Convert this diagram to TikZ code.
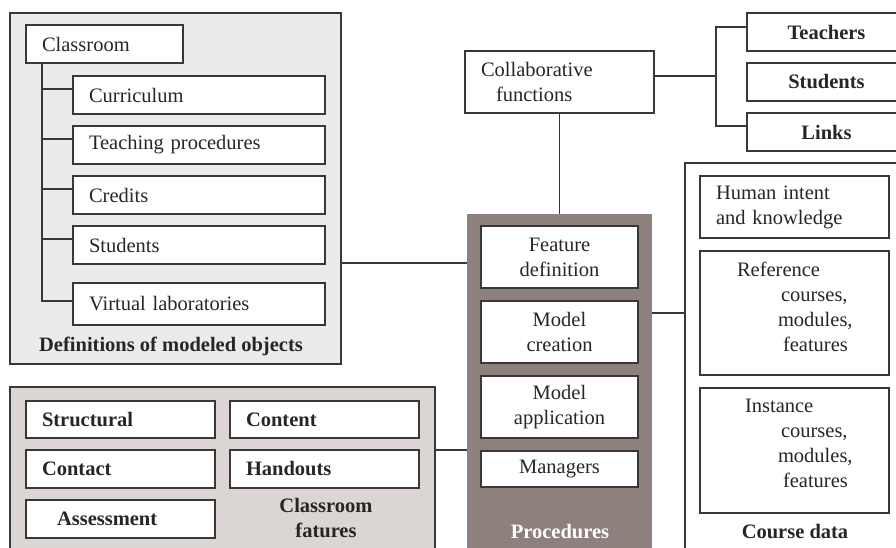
\documentclass[tikz,border=0pt]{standalone}
\usepackage{fontspec}
\setmainfont{Liberation Serif}
\tikzset{>=latex}
\definecolor{defgray}{HTML}{ECEBE9}
\definecolor{featgray}{HTML}{DBD6D3}
\definecolor{procbrown}{HTML}{8E807C}
\colorlet{linegray}{black!78}
\newcommand{\boxfont}{\fontsize{20.5}{25}\selectfont}

\begin{document}
\begin{tikzpicture}[x=1pt,y=-1pt,
  every node/.style={outer sep=0pt, text=black!85, font=\boxfont},
  panel/.style={draw=linegray, line width=2pt, anchor=north west, inner sep=0pt},
  itembox/.style={draw=linegray, line width=2pt, fill=white, anchor=north west,
    inner xsep=16pt, inner ysep=0pt, minimum height=38pt},
  leftbox/.style={itembox, align=left, text width=#1},
  midbox/.style={itembox, align=center, minimum width=#1},
  wire/.style={draw=linegray, line width=1.6pt}
]
  \clip (0,0) rectangle (896,547);

  % panels
  \node[panel, fill=defgray, minimum width=331pt, minimum height=351pt] (defpanel) at (10,13) {};
  \node[panel, fill=featgray, minimum width=425pt, minimum height=200pt] (featpanel) at (10,387) {};
  \node[panel, draw=none, fill=procbrown, minimum width=185pt, minimum height=360pt] (procpanel) at (467,214) {};
  \node[panel, fill=white, minimum width=240pt, minimum height=420pt] (datapanel) at (685,163) {};

  \node[font=\boxfont\bfseries, anchor=base] (deftitle) at (171,351) {Definitions of modeled objects};
  \node[font=\boxfont\bfseries, align=center] (feattitle) at (326,518.5) {Classroom\\fatures};
  \node[font=\boxfont\bfseries, text=white, anchor=base] (proctitle) at (560,538) {Procedures};
  \node[font=\boxfont\bfseries, anchor=base] (datatitle) at (795,538) {Course data};

  % modeled objects
  \node[leftbox=125pt] (classroom) at (26,25) {Classroom};
  \node[leftbox=220pt] (curric) at (73,76) {Curriculum};
  \node[leftbox=220pt] (teach) at (73,126) {Teaching procedures};
  \node[leftbox=220pt] (credits) at (73,176) {Credits};
  \node[leftbox=220pt] (stud) at (73,226) {Students};
  \node[leftbox=220pt, minimum height=42pt] (virtlab) at (73,283) {Virtual laboratories};

  % collaborative functions
  \node[leftbox=157pt, minimum height=62pt] (collab) at (465,51) {Collaborative\\\hspace*{15pt}functions};
  \node[midbox=159pt, font=\boxfont\bfseries] (teachers) at (747,13) {Teachers};
  \node[midbox=159pt, font=\boxfont\bfseries] (students) at (747,63) {Students};
  \node[midbox=159pt, font=\boxfont\bfseries] (links) at (747,113) {Links};

  % procedures
  \node[midbox=157pt, minimum height=62pt] (featdef) at (481,226) {Feature\\definition};
  \node[midbox=157pt, minimum height=62pt] (modelcre) at (481,301) {Model\\creation};
  \node[midbox=157pt, minimum height=62pt] (modelapp) at (481,376) {Model\\application};
  \node[midbox=157pt, minimum height=36pt] (managers) at (481,451) {Managers};

  % course data
  \node[leftbox=157pt, minimum height=62pt] (human) at (700,176) {Human intent\\and knowledge};
  \node[leftbox=157pt, minimum height=124pt, text depth=87pt] (refdata) at (700,251)
    {\hspace*{21pt}Reference\\\hspace*{65pt}courses,\\\hspace*{62pt}modules,\\\hspace*{67pt}features};
  \node[leftbox=157pt, minimum height=125pt, text depth=89pt] (instdata) at (700,388)
    {\hspace*{29pt}Instance\\\hspace*{65pt}courses,\\\hspace*{62pt}modules,\\\hspace*{67pt}features};

  % classroom features
  \node[leftbox=157pt, minimum height=37pt, font=\boxfont\bfseries] (structural) at (26,401) {Structural};
  \node[leftbox=157pt, minimum height=37pt, font=\boxfont\bfseries] (content) at (230,401) {Content};
  \node[leftbox=157pt, font=\boxfont\bfseries] (contact) at (26,450) {Contact};
  \node[leftbox=157pt, font=\boxfont\bfseries] (handouts) at (230,450) {Handouts};
  \node[leftbox=157pt, font=\boxfont\bfseries] (assess) at (26,500) {\hspace*{15pt}Assessment};

  % connectors
  \draw[wire] ([xshift=16pt]classroom.south west) |- ([yshift=3pt]virtlab.west);
  \foreach \n in {curric,teach,credits,stud}
    \draw[wire] ([yshift=6pt]\n.west) -- ++(-31,0);
  \draw[wire] (defpanel.east |- 0,263) -- (procpanel.west |- 0,263);
  \draw[wire] (featpanel.east |- 0,450) -- (procpanel.west |- 0,450);
  \draw[wire] (procpanel.east |- 0,313) -- (datapanel.west |- 0,313);
  \draw[wire] (collab.south) -- (procpanel.north);
  \coordinate (bus) at (716,76);
  \draw[wire] (collab.east |- bus) -- (bus);
  \draw[wire] (teachers.west |- 0,27) -| (bus) |- (links.west |- 0,126);
\end{tikzpicture}
\end{document}
